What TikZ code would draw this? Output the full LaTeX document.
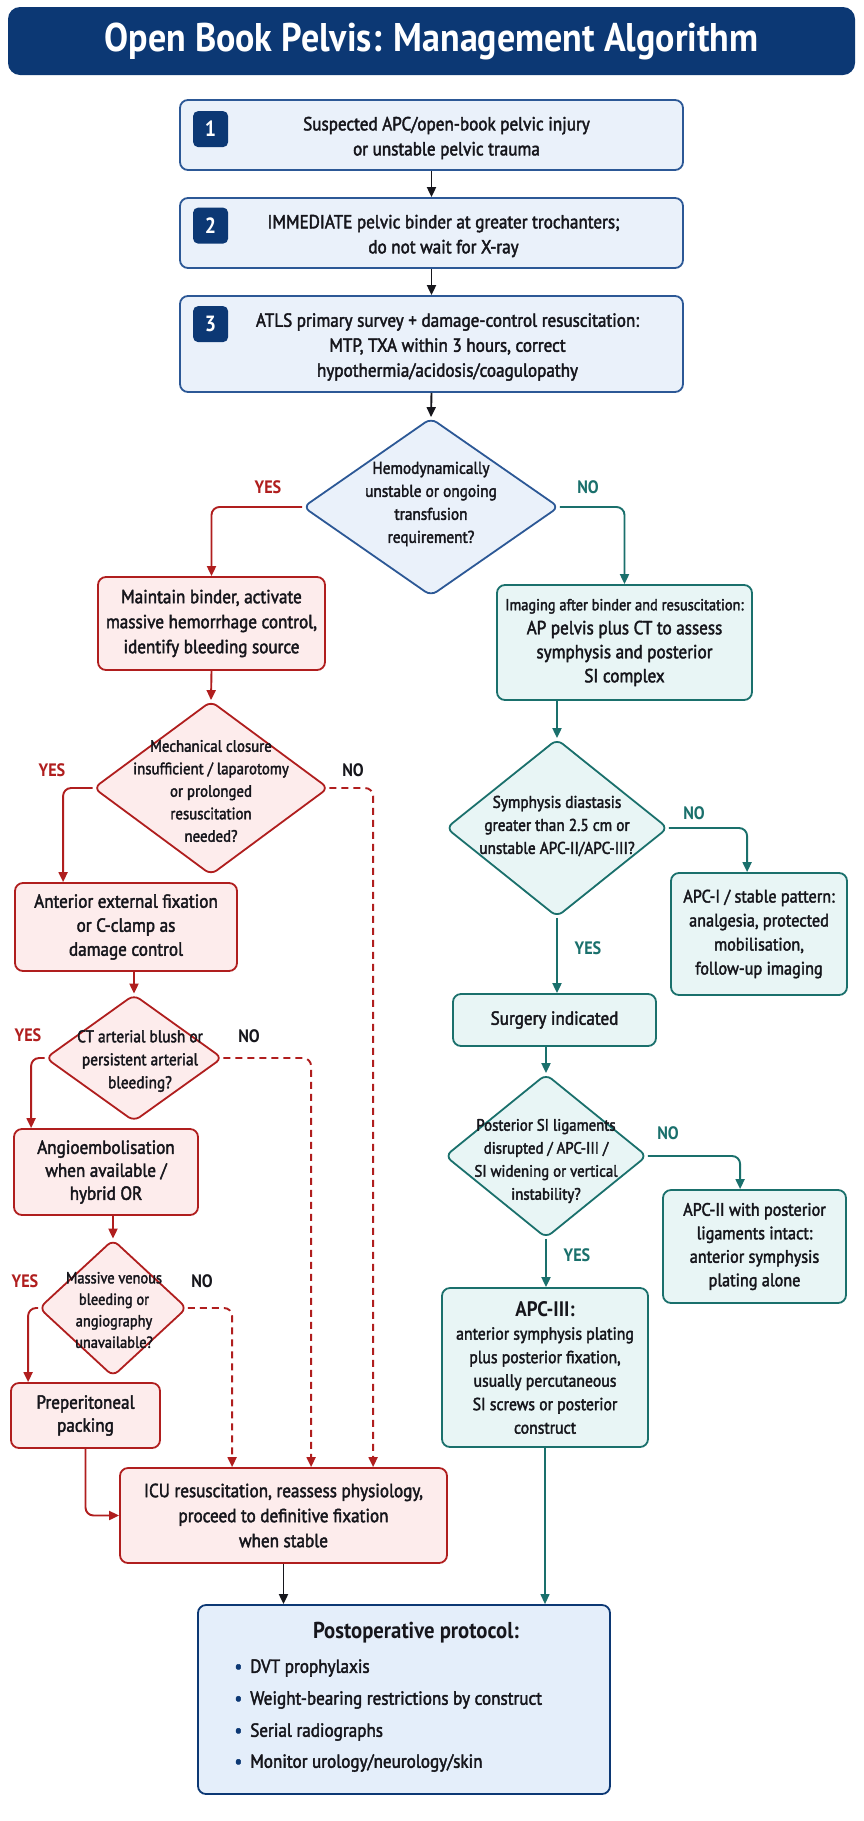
\documentclass[tikz,border=0pt]{standalone}
\usepackage{fontspec}
\setmainfont{PT Sans}[FakeStretch=0.9, UprightFeatures={FakeBold=2.2}]
\usetikzlibrary{shapes.geometric,arrows.meta,calc}

\definecolor{navy}{RGB}{12,56,116}
\definecolor{blueline}{RGB}{44,88,150}
\definecolor{bluefill}{RGB}{234,241,250}
\definecolor{redline}{RGB}{176,30,30}
\definecolor{redfill}{RGB}{253,236,236}
\definecolor{tealline}{RGB}{26,112,108}
\definecolor{tealfill}{RGB}{232,245,245}
\definecolor{protofill}{RGB}{228,238,250}
\definecolor{ink}{RGB}{22,22,28}

\newcommand{\fs}[2]{\fontsize{#1}{#2}\selectfont}

\tikzset{
  box/.style={rounded corners=8pt, line width=1.8pt, inner sep=0pt, align=center, text=ink, font=\fs{19}{24}},
  bbox/.style={box, draw=blueline, fill=bluefill},
  rbox/.style={box, draw=redline, fill=redfill},
  tbox/.style={box, draw=tealline, fill=tealfill},
  dia/.style={diamond, rounded corners=7pt, line width=1.8pt, inner sep=0pt},
  bdia/.style={dia, draw=blueline, fill=bluefill},
  rdia/.style={dia, draw=redline, fill=redfill},
  tdia/.style={dia, draw=tealline, fill=tealfill},
  txt/.style={align=center, text=ink, font=\fs{19}{25}},
  qtxt/.style={align=center, text=ink, font=\fs{17}{23}},
  badge/.style={fill=navy, rounded corners=5pt, minimum width=35pt, minimum height=36pt, inner sep=0pt, text=white, font=\fs{22}{22}\bfseries},
  lbl/.style={font=\fs{18}{18}\bfseries},
  arr/.style={-{Triangle[length=10pt,width=9pt]}, line width=1.9pt, rounded corners=8pt},
  karr/.style={arr, draw=ink},
  rarr/.style={arr, draw=redline},
  tarr/.style={arr, draw=tealline},
  rdash/.style={rarr, dash pattern=on 7pt off 5pt}
}

\begin{document}
\begin{tikzpicture}[x=1pt,y=-1pt]
\useasboundingbox (0,0) rectangle (864,1821);
\fill[white] (0,0) rectangle (864,1821);

\node[fill=navy, rounded corners=12pt, minimum width=847pt, minimum height=68pt, text=white, font=\fs{40}{40}\bfseries] (title) at (431.5,41) {Open Book Pelvis: Management Algorithm};

% numbered steps
\node[bbox, minimum width=503pt, minimum height=70pt] (s1) at (431.5,135) {};
\node[badge] (b1) at ($(s1.north west)+(31.5,30)$) {1};
\node[txt] (s1t) at ($(s1.center)+(15,3)$) {Suspected APC/open-book pelvic injury\\or unstable pelvic trauma};

\node[bbox, minimum width=503pt, minimum height=70pt] (s2) at (431.5,233) {};
\node[badge] (b2) at ($(s2.north west)+(31.5,28.5)$) {2};
\node[txt] (s2t) at ($(s2.center)+(12,3)$) {IMMEDIATE pelvic binder at greater trochanters;\\do not wait for X-ray};

\node[bbox, minimum width=503pt, minimum height=96pt] (s3) at (431.5,344) {};
\node[badge] (b3) at ($(s3.north west)+(31.5,29)$) {3};
\node[txt] (s3t) at ($(s3.center)+(16,3)$) {ATLS primary survey + damage-control resuscitation:\\MTP, TXA within 3 hours, correct\\hypothermia/acidosis/coagulopathy};

\node[bdia, minimum width=256pt, minimum height=178pt] (hemo) at (431,507) {};
\node[qtxt] (hemot) at ($(hemo.center)+(0,-3)$) {Hemodynamically\\unstable or ongoing\\transfusion\\requirement?};

% unstable branch
\node[rbox, minimum width=227pt, minimum height=93pt, font=\fs{19}{25}] (maint) at (211.5,623.5) {Maintain binder, activate\\massive hemorrhage control,\\identify bleeding source};

\node[rdia, minimum width=235pt, minimum height=174pt] (mech) at (211,788) {};
\node[qtxt, font=\fs{16.5}{22.5}] (mecht) at ($(mech.center)+(0,3)$) {Mechanical closure\\insufficient / laparotomy\\or prolonged\\resuscitation\\needed?};

\node[rbox, minimum width=222pt, minimum height=88pt] (antx) at (126,927) {Anterior external fixation\\or C-clamp as\\damage control};

\node[rdia, minimum width=177pt, minimum height=127pt] (ct) at (134,1058) {};
\node[qtxt] (ctt) at ($(ct.center)+(6,3)$) {CT arterial blush or\\persistent arterial\\bleeding?};

\node[rbox, minimum width=184pt, minimum height=86pt, font=\fs{19}{23}] (angio) at (106,1172) {Angioembolisation\\when available /\\hybrid OR};

\node[rdia, minimum width=148pt, minimum height=137pt] (venous) at (113,1308) {};
\node[qtxt, font=\fs{16}{21.5}] (venoust) at ($(venous.center)+(1,2)$) {Massive venous\\bleeding or\\angiography\\unavailable?};

\node[rbox, minimum width=149pt, minimum height=65pt, font=\fs{19}{23}] (prep) at (85.5,1415.5) {Preperitoneal\\packing};

\node[rbox, minimum width=327pt, minimum height=95pt, font=\fs{19}{25}] (icu) at (283.5,1515.5) {ICU resuscitation, reassess physiology,\\proceed to definitive fixation\\when stable};

% stable branch
\node[tbox, minimum width=255pt, minimum height=115pt] (img) at (624.5,642.5) {{\fs{16}{24}Imaging after binder and resuscitation:}\\AP pelvis plus CT to assess\\symphysis and posterior\\SI complex};

\node[tdia, minimum width=222pt, minimum height=178pt] (symph) at (557,828) {};
\node[qtxt] (sympht) at ($(symph.center)+(0,-2)$) {Symphysis diastasis\\greater than 2.5 cm or\\unstable APC-II/APC-III?};

\node[tbox, minimum width=176pt, minimum height=122pt, font=\fs{18}{24}] (apc1) at (759,934) {APC-I / stable pattern:\\analgesia, protected\\mobilisation,\\follow-up imaging};

\node[tbox, minimum width=203pt, minimum height=52pt] (surg) at (554.5,1020) {Surgery indicated};

\node[tdia, minimum width=202pt, minimum height=164pt] (postsi) at (546,1156) {};
\node[qtxt, font=\fs{16.5}{23}] (postsit) at ($(postsi.center)+(0,5)$) {Posterior SI ligaments\\disrupted / APC-III /\\SI widening or vertical\\instability?};

\node[tbox, minimum width=183pt, minimum height=113pt, font=\fs{18}{23.5}] (apc2) at (754.5,1246.5) {APC-II with posterior\\ligaments intact:\\anterior symphysis\\plating alone};

\node[tbox, minimum width=206pt, minimum height=159pt, font=\fs{17.5}{23.5}] (apc3) at (545,1367.5) {{\fs{21}{24}\bfseries APC-III:}\\anterior symphysis plating\\plus posterior fixation,\\usually percutaneous\\SI screws or posterior\\construct};

% protocol
\node[box, draw=navy, fill=protofill, minimum width=412pt, minimum height=189pt] (proto) at (404,1699.5) {};
\node[txt, font=\fs{23}{23}\bfseries] (protot) at (416,1633) {Postoperative protocol:};
\node[txt, anchor=west] (p1) at (231,1668) {\textcolor{navy}{\textbullet}\hspace{8pt}DVT prophylaxis};
\node[txt, anchor=west] (p2) at (231,1700) {\textcolor{navy}{\textbullet}\hspace{8pt}Weight-bearing restrictions by construct};
\node[txt, anchor=west] (p3) at (231,1732) {\textcolor{navy}{\textbullet}\hspace{8pt}Serial radiographs};
\node[txt, anchor=west] (p4) at (231,1763) {\textcolor{navy}{\textbullet}\hspace{8pt}Monitor urology/neurology/skin};

% connectors
\draw[karr] (s1.south) -- (s2.north);
\draw[karr] (s2.south) -- (s3.north);
\draw[karr] (s3.south) -- (hemo.north);
\draw[rarr] (hemo.west) -| (maint.north);
\draw[tarr] (hemo.east) -| (img.north);
\draw[rarr] (maint.south) -- (mech.north);
\draw[rarr] (mech.west) -| ([xshift=49pt]antx.north west);
\draw[rdash] (mech.east) -| ([xshift=254pt]icu.north west);
\draw[rarr] (antx.south -| ct.north) -- (ct.north);
\draw[rarr] (ct.west) -| ([xshift=18pt]angio.north west);
\draw[rdash] (ct.east) -| ([xshift=192pt]icu.north west);
\draw[rarr] (angio.south -| venous.north) -- (venous.north);
\draw[rarr] (venous.west) -| ([xshift=18pt]prep.north west);
\draw[rdash] (venous.east) -| ([xshift=113pt]icu.north west);
\draw[rarr] (prep.south) |- (icu.west);
\draw[karr] (icu.south) -- (icu.south |- proto.north);
\draw[tarr] (img.south -| symph.north) -- (symph.north);
\draw[tarr] (symph.east) -| ([xshift=77pt]apc1.north west);
\draw[tarr] (symph.south) -- (symph.south |- surg.north);
\draw[tarr] (surg.south -| postsi.north) -- (postsi.north);
\draw[tarr] (postsi.east) -| ([xshift=78pt]apc2.north west);
\draw[tarr] (postsi.south) -- (postsi.south |- apc3.north);
\draw[tarr, line width=1.2pt] (apc3.south) -- (apc3.south |- proto.north);

% branch labels
\node[lbl, text=redline] (yes1) at (268,487) {YES};
\node[lbl, text=tealline] (no1) at (588,487) {NO};
\node[lbl, text=redline] (yes2) at (52,770) {YES};
\node[lbl, text=ink] (no2) at (353,770) {NO};
\node[lbl, text=redline] (yes3) at (28,1035) {YES};
\node[lbl, text=ink] (no3) at (249,1036) {NO};
\node[lbl, text=redline] (yes4) at (25,1281) {YES};
\node[lbl, text=ink] (no4) at (202,1281) {NO};
\node[lbl, text=tealline] (no5) at (694,813) {NO};
\node[lbl, text=tealline] (yes5) at (588,948) {YES};
\node[lbl, text=tealline] (no6) at (668,1133) {NO};
\node[lbl, text=tealline] (yes6) at (577,1255) {YES};
\end{tikzpicture}
\end{document}
